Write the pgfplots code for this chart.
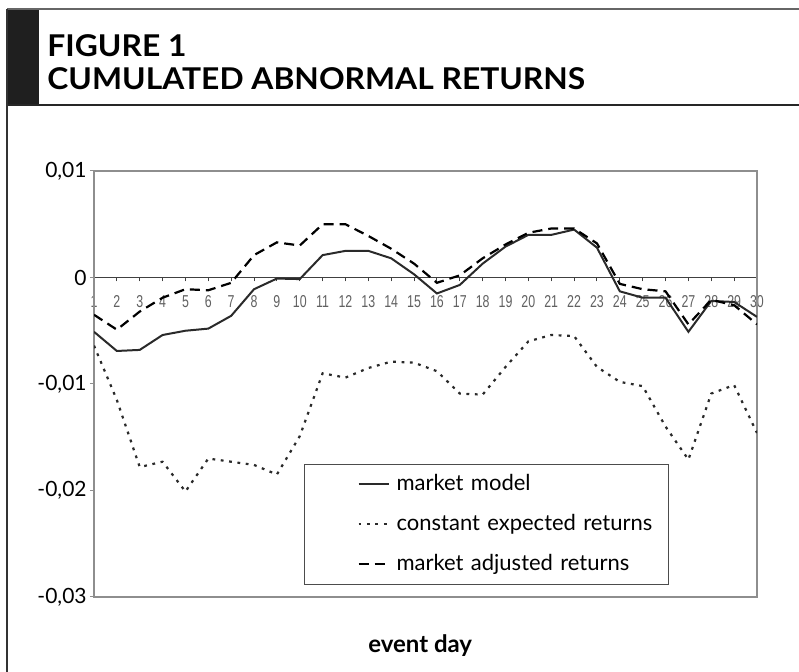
\documentclass[border=0pt]{standalone}
\usepackage{pgfplots}
\pgfplotsset{compat=1.18}
\usepackage{fontspec}
\setmainfont{Lato}
\newfontfamily\arialfont[FakeStretch=0.72]{Liberation Sans}
\newfontfamily\titlefont[FakeStretch=1.06]{Lato}
\definecolor{framegray}{HTML}{8E8E8E}
\definecolor{linedark}{HTML}{2A2A2A}

\pgfplotstableread{
day mm cer ma
1 -0.0051 -0.0064 -0.0035
2 -0.0069 -0.0115 -0.0049
3 -0.0068 -0.0178 -0.0032
4 -0.0054 -0.0173 -0.0019
5 -0.0050 -0.0201 -0.0011
6 -0.0048 -0.0170 -0.0012
7 -0.0036 -0.0173 -0.0005
8 -0.0011 -0.0176 0.0021
9 -0.0001 -0.0185 0.0033
10 -0.00015 -0.0149 0.0030
11 0.0021 -0.0090 0.0050
12 0.0025 -0.0094 0.0050
13 0.0025 -0.0085 0.0039
14 0.0018 -0.0079 0.0027
15 0.0003 -0.0080 0.0013
16 -0.0015 -0.0088 -0.0005
17 -0.0007 -0.0109 0.0002
18 0.0013 -0.0110 0.0018
19 0.0029 -0.0084 0.0031
20 0.0040 -0.0060 0.0042
21 0.0040 -0.0054 0.0046
22 0.0045 -0.0055 0.0046
23 0.0028 -0.0084 0.0032
24 -0.0013 -0.0098 -0.0006
25 -0.0019 -0.0102 -0.0011
26 -0.0019 -0.0140 -0.0013
27 -0.0051 -0.0171 -0.0044
28 -0.0022 -0.0109 -0.0021
29 -0.0023 -0.0101 -0.0026
30 -0.0037 -0.0146 -0.0044
}\cardata

\begin{document}
\begin{tikzpicture}[x=0.5pt,y=0.5pt]
\useasboundingbox (0,0) rectangle (799,672);
% header frame
\fill[black!88] (7,567) rectangle (39,663);
\draw[line width=1.1pt, black!60] (7,663) -- (799,663);
\draw[line width=0.9pt, black!85] (7,567) -- (799,567);
\draw[line width=0.9pt, black!80] (7,663) -- (7,0);
\node[anchor=base west, inner sep=0pt, font=\titlefont\fontsize{15}{17}\selectfont\bfseries] at (47,615) {FIGURE 1};
\node[anchor=base west, inner sep=0pt, font=\titlefont\fontsize{15}{17}\selectfont\bfseries] at (47,582) {CUMULATED ABNORMAL RETURNS};

% zero line with day labels
\begin{axis}[
  at={(47pt,37.5pt)}, anchor=south west, scale only axis,
  width=331.5pt, height=213pt,
  xmin=1, xmax=30, ymin=-0.03, ymax=0.01,
  axis x line=middle, axis y line=none,
  axis line style={-, black!75, line width=0.6pt},
  xtick={1,...,30}, ytick=\empty,
  tick align=outside, major tick length=2pt,
  xtick style={black!75, line width=0.5pt},
  /pgf/number format/assume math mode=true,
  xticklabel style={font=\arialfont\fontsize{8.6}{10}\selectfont, text=black!62, inner sep=0pt, anchor=north, yshift=-7pt},
  hide obscured x ticks=false,
]
\end{axis}

\begin{axis}[
  at={(47pt,37.5pt)}, anchor=south west, scale only axis,
  width=331.5pt, height=213pt,
  xmin=1, xmax=30, ymin=-0.03, ymax=0.01,
  axis line style={framegray, line width=0.6pt},
  xtick=\empty,
  scaled y ticks=false,
  ytick={-0.03,-0.02,-0.01,0,0.01},
  yticklabels={{-0,03},{-0,02},{-0,01},{0},{0,01}},
  ytick pos=left, tick align=outside, major tick length=2pt,
  ytick style={framegray, line width=0.5pt},
  yticklabel style={font=\fontsize{10.5}{12}\selectfont, inner sep=0pt, xshift=-1.5pt},
  xlabel={event day},
  xlabel style={font=\bfseries\fontsize{12}{14}\selectfont, at={(axis description cs:0.492,-0.113)}, anchor=center},
  legend cell align=left,
  legend style={at={(0.3167,0.0282)}, anchor=south west, draw=black!70, line width=0.6pt, fill=white,
    inner xsep=0pt, inner ysep=0pt, row sep=0pt,
    font=\fontsize{11}{13}\selectfont,
    nodes={inner sep=0pt, minimum height=20pt, text width=136pt}},
  legend image code/.code={\path[draw=none] (0pt,-1pt) rectangle (46pt,1pt); \draw[#1] (27pt,0pt) -- (42pt,0pt);},
]
\addplot[linedark, line width=1pt] table[x=day, y=mm] {\cardata};
\addlegendentry{market model}
\addplot[linedark, line width=1.1pt, dash pattern=on 1.4pt off 2.8pt] table[x=day, y=cer] {\cardata};
\addlegendentry{constant expected returns}
\addplot[black, line width=1.1pt, dash pattern=on 5pt off 3pt] table[x=day, y=ma] {\cardata};
\addlegendentry{market adjusted returns}
\end{axis}
\end{tikzpicture}
\end{document}
